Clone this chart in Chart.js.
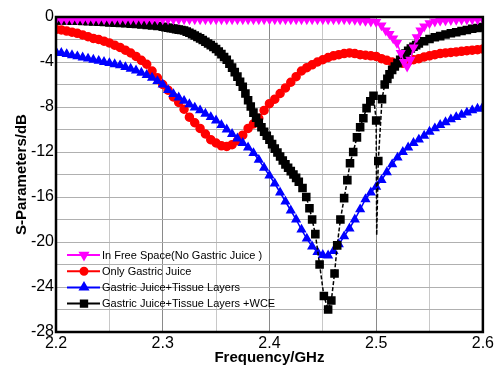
<!DOCTYPE html>
<html>
<head>
<meta charset="utf-8">
<script src="https://cdn.jsdelivr.net/npm/chart.js@4.4.1/dist/chart.umd.min.js"></script>
<style>
  html, body { margin: 0; padding: 0; background: #fff; }
  #wrap { width: 496px; height: 374px; }
</style>
</head>
<body>
<div id="wrap"><canvas id="sParamChart" width="496" height="374"></canvas></div>
<script>
// frequency sweep (GHz)
const freq = [
  2.2, 2.205, 2.21, 2.215, 2.22, 2.225, 2.23, 2.235, 2.24, 2.245,
  2.25, 2.255, 2.26, 2.265, 2.27, 2.275, 2.28, 2.285, 2.29, 2.295,
  2.3, 2.305, 2.31, 2.315, 2.32, 2.325, 2.33, 2.335, 2.34, 2.345,
  2.35, 2.355, 2.36, 2.365, 2.37, 2.375, 2.38, 2.385, 2.39, 2.395,
  2.4, 2.405, 2.41, 2.415, 2.42, 2.425, 2.43, 2.435, 2.44, 2.445,
  2.45, 2.455, 2.46, 2.465, 2.47, 2.475, 2.48, 2.485, 2.49, 2.495,
  2.5, 2.505, 2.51, 2.515, 2.52, 2.525, 2.53, 2.535, 2.54, 2.545,
  2.55, 2.555, 2.56, 2.565, 2.57, 2.575, 2.58, 2.585, 2.59, 2.595,
  2.6
];

// free space trace has extra samples in its notch
const freeFreq = [
  2.2, 2.205, 2.21, 2.215, 2.22, 2.225, 2.23, 2.235, 2.24, 2.245,
  2.25, 2.255, 2.26, 2.265, 2.27, 2.275, 2.28, 2.285, 2.29, 2.295,
  2.3, 2.305, 2.31, 2.315, 2.32, 2.325, 2.33, 2.335, 2.34, 2.345,
  2.35, 2.355, 2.36, 2.365, 2.37, 2.375, 2.38, 2.385, 2.39, 2.395,
  2.4, 2.405, 2.41, 2.415, 2.42, 2.425, 2.43, 2.435, 2.44, 2.445,
  2.45, 2.455, 2.46, 2.465, 2.47, 2.475, 2.48, 2.485, 2.49, 2.495,
  2.5, 2.505, 2.509, 2.5125, 2.516, 2.5195, 2.523, 2.526, 2.529, 2.532,
  2.535, 2.538, 2.5415, 2.545, 2.55, 2.555, 2.56, 2.565, 2.57, 2.575,
  2.58, 2.585, 2.59, 2.595, 2.6
];

const freeSpace = [
  -0.2, -0.2, -0.2, -0.2, -0.2, -0.2, -0.2, -0.2, -0.2, -0.2,
  -0.2, -0.2, -0.2, -0.2, -0.2, -0.2, -0.2, -0.2, -0.2, -0.2,
  -0.2, -0.2, -0.2, -0.2, -0.2, -0.2, -0.2, -0.2, -0.2, -0.2,
  -0.2, -0.2, -0.2, -0.2, -0.2, -0.2, -0.2, -0.2, -0.2, -0.2,
  -0.2, -0.2, -0.2, -0.2, -0.2, -0.2, -0.2, -0.2, -0.2, -0.2,
  -0.2, -0.2, -0.2, -0.2, -0.2, -0.22, -0.25, -0.3, -0.35, -0.4,
  -0.45, -0.75, -1.2, -1.5, -1.9, -2.3, -3.2, -4.0, -4.4, -3.8,
  -2.7, -1.8, -1.2, -0.85, -0.55, -0.4, -0.33, -0.3, -0.27, -0.25,
  -0.23, -0.22, -0.2, -0.2, -0.2
];

const gastricJuice = [
  -1.1, -1.15, -1.25, -1.35, -1.45, -1.6, -1.75, -1.9, -2.0, -2.15,
  -2.3, -2.5, -2.7, -2.95, -3.2, -3.5, -3.85, -4.2, -4.8, -5.4,
  -6.0, -6.5, -7.1, -7.6, -8.2, -8.9, -9.4, -9.9, -10.4, -10.9,
  -11.2, -11.45, -11.5, -11.35, -11.0, -10.5, -9.9, -9.5, -9.0, -8.3,
  -7.7, -7.3, -6.8, -6.3, -5.8, -5.3, -4.8, -4.5, -4.25, -4.0,
  -3.8, -3.6, -3.45, -3.35, -3.25, -3.2, -3.25, -3.35, -3.4, -3.45,
  -3.5, -3.7, -3.85, -4.0, -4.1, -4.1, -3.95, -3.8, -3.7, -3.55,
  -3.45, -3.35, -3.25, -3.2, -3.15, -3.1, -3.05, -3.0, -2.95, -2.9,
  -2.85
];

const tissueLayers = [
  -3.1, -3.2, -3.3, -3.4, -3.5, -3.6, -3.7, -3.8, -3.9, -4.0,
  -4.1, -4.2, -4.3, -4.45, -4.6, -4.75, -4.95, -5.15, -5.4, -5.7,
  -6.0, -6.5, -6.85, -7.15, -7.45, -7.75, -8.05, -8.3, -8.6, -8.9,
  -9.2, -9.6, -10.0, -10.4, -10.8, -11.2, -11.6, -12.1, -12.7, -13.4,
  -14.1, -14.8, -15.6, -16.4, -17.2, -18.0, -18.9, -19.7, -20.4, -20.9,
  -21.15, -21.2, -20.8, -20.2, -19.5, -18.8, -18.0, -17.1, -16.2, -15.6,
  -15.1, -14.5, -13.8, -13.1, -12.5, -12.0, -11.6, -11.2, -10.9, -10.55,
  -10.2, -9.9, -9.6, -9.35, -9.1, -8.9, -8.7, -8.5, -8.3, -8.15,
  -8.0
];

// the WCE trace is sampled finer where it drops, plus the spike near 2.5 GHz
const wceFreq = [
  2.2, 2.205, 2.21, 2.215, 2.22, 2.225, 2.23, 2.235, 2.24, 2.245,
  2.25, 2.255, 2.26, 2.265, 2.27, 2.275, 2.28, 2.285, 2.29, 2.295,
  2.3, 2.3025, 2.305, 2.3075, 2.31, 2.3125, 2.315, 2.3175, 2.32, 2.3225,
  2.325, 2.3275, 2.33, 2.3325, 2.335, 2.3375, 2.34, 2.3425, 2.345, 2.3475,
  2.35, 2.3525, 2.355, 2.3575, 2.36, 2.3625, 2.365, 2.3675, 2.37, 2.3725,
  2.375, 2.3775, 2.38, 2.3825, 2.385, 2.3875, 2.39, 2.3925, 2.395, 2.3975,
  2.4, 2.4025, 2.405, 2.4075, 2.41, 2.4125, 2.415, 2.4175, 2.42, 2.4225,
  2.425, 2.4275, 2.431, 2.4345, 2.4375, 2.44, 2.443, 2.447, 2.451, 2.455,
  2.458, 2.461, 2.4635, 2.4665, 2.47, 2.473, 2.4755, 2.4785, 2.482, 2.485,
  2.488, 2.491, 2.4945, 2.4975, 2.5, 2.5005, 2.502, 2.5055, 2.508, 2.5105,
  2.5125, 2.515, 2.5175, 2.52, 2.5225, 2.525, 2.5275, 2.53, 2.5325, 2.535,
  2.5375, 2.54, 2.545, 2.55, 2.555, 2.56, 2.565, 2.57, 2.575, 2.58,
  2.585, 2.59, 2.595, 2.6
];

const wce = [
  -0.3, -0.3, -0.3, -0.32, -0.33, -0.35, -0.37, -0.4, -0.42, -0.45,
  -0.48, -0.5, -0.53, -0.56, -0.6, -0.63, -0.67, -0.7, -0.75, -0.8,
  -0.87, -0.91, -0.95, -0.99, -1.03, -1.08, -1.12, -1.16, -1.2, -1.3,
  -1.4, -1.52, -1.65, -1.77, -1.9, -2.05, -2.2, -2.35, -2.5, -2.67,
  -2.85, -3.07, -3.3, -3.55, -3.8, -4.15, -4.5, -4.9, -5.3, -5.75,
  -6.2, -6.8, -7.4, -7.95, -8.5, -8.95, -9.4, -9.8, -10.2, -10.55,
  -10.9, -11.3, -11.7, -12.05, -12.4, -12.75, -13.1, -13.4, -13.7, -14.0,
  -14.3, -14.65, -15.2, -16.0, -17.0, -18.0, -19.3, -22.0, -24.8, -26.0,
  -25.2, -22.8, -20.3, -18.0, -16.1, -14.5, -13.0, -12.0, -10.7, -9.8,
  -9.0, -8.1, -7.5, -7.0, -9.2, -19.4, -12.8, -7.3, -6.0, -5.5,
  -5.1, -4.7, -4.4, -4.1, -3.8, -3.5, -3.25, -3.0, -2.8, -2.65,
  -2.5, -2.35, -2.15, -1.95, -1.8, -1.7, -1.55, -1.45, -1.35, -1.25,
  -1.15, -1.05, -0.97, -0.9
];
const wceSpikeFreq = 2.5005;

const seriesLabels = [
  'In Free Space(No Gastric Juice )',
  'Only Gastric Juice',
  'Gastric Juice+Tissue Layers',
  'Gastric Juice+Tissue Layers +WCE'
];

const yTicks = [0, -4, -8, -12, -16, -20, -24, -28];
const xTicks = [2.2, 2.3, 2.4, 2.5, 2.6];

const FONT = '"Liberation Sans", Arial, sans-serif';

function toPoints(xs, ys) {
  return ys.map((y, i) => ({ x: xs[i], y: y }));
}

const frameBorder = {
  id: 'frameBorder',
  afterDraw(chart) {
    const { left, top, right, bottom } = chart.chartArea;
    const ctx = chart.ctx;
    ctx.save();
    ctx.strokeStyle = '#000';
    ctx.lineWidth = 2.5;
    ctx.strokeRect(left, top, right - left, bottom - top);
    ctx.restore();
  }
};

// legend sits inside the plot, bottom left, line + marker like the original
const insideLegend = {
  id: 'insideLegend',
  afterDraw(chart) {
    const ctx = chart.ctx;
    const { left, bottom } = chart.chartArea;
    ctx.save();
    ctx.font = '11px ' + FONT;
    ctx.textBaseline = 'middle';
    chart.data.datasets.forEach((ds, i) => {
      const y = bottom - 77 + i * 16.2;
      ctx.strokeStyle = ds.borderColor;
      ctx.fillStyle = ds.borderColor;
      ctx.lineWidth = 2;
      ctx.setLineDash([]);
      ctx.beginPath();
      ctx.moveTo(left + 11, y);
      ctx.lineTo(left + 44, y);
      ctx.stroke();
      Chart.helpers.drawPoint(ctx, {
        pointStyle: ds.pointStyle,
        rotation: ds.pointRotation || 0,
        radius: ds.legendRadius,
        borderWidth: 1
      }, left + 28, y);
      ctx.fillStyle = '#000';
      ctx.fillText(ds.label, left + 46, y + 0.5);
    });
    ctx.restore();
  }
};

const ctx = document.getElementById('sParamChart').getContext('2d');
new Chart(ctx, {
  type: 'line',
  data: {
    datasets: [
      {
        label: seriesLabels[0],
        data: toPoints(freeFreq, freeSpace),
        borderColor: '#ff00ff',
        backgroundColor: '#ff00ff',
        borderWidth: 1.5,
        pointStyle: 'triangle',
        pointRotation: 180,
        pointRadius: 4.4,
        legendRadius: 4.4,
        order: 0
      },
      {
        label: seriesLabels[1],
        data: toPoints(freq, gastricJuice),
        borderColor: '#ff0000',
        backgroundColor: '#ff0000',
        borderWidth: 1.5,
        pointStyle: 'circle',
        pointRadius: 4,
        legendRadius: 3.5,
        order: 3
      },
      {
        label: seriesLabels[2],
        data: toPoints(freq, tissueLayers),
        borderColor: '#0000ff',
        backgroundColor: '#0000ff',
        borderWidth: 1.5,
        pointStyle: 'triangle',
        pointRadius: 4.4,
        legendRadius: 4.4,
        order: 2
      },
      {
        label: seriesLabels[3],
        data: toPoints(wceFreq, wce),
        borderColor: '#000000',
        backgroundColor: '#000000',
        borderWidth: 1.5,
        borderDash: [4, 2],
        pointStyle: 'rect',
        pointRadius: c => (c.raw && c.raw.x === wceSpikeFreq ? 0 : 5),
        legendRadius: 4.5,
        order: 1
      }
    ]
  },
  options: {
    responsive: false,
    animation: false,
    layout: { padding: { top: 17, right: 12, left: 0, bottom: 0 } },
    elements: {
      line: { tension: 0 },
      point: { borderWidth: 1, hoverRadius: 5 }
    },
    plugins: {
      legend: { display: false },
      tooltip: { enabled: false }
    },
    scales: {
      x: {
        type: 'linear',
        min: 2.2,
        max: 2.6,
        border: { display: false },
        afterFit: s => { s.height = 42; },
        afterBuildTicks: s => {
          const t = [];
          xTicks.forEach((v, i) => {
            t.push({ value: v });
            if (i < xTicks.length - 1) t.push({ value: Math.round((v + 0.05) * 100) / 100 });
          });
          s.ticks = t;
        },
        ticks: {
          color: '#000',
          padding: 2,
          maxRotation: 0,
          autoSkip: false,
          font: { family: FONT, size: 16 },
          callback: v => (xTicks.includes(v) ? v.toFixed(1) : '')
        },
        grid: {
          drawTicks: false,
          lineWidth: 1,
          color: c => (c.tick && xTicks.includes(c.tick.value) ? '#8a8a8a' : '#c8c8c8'),
          borderDash: [2, 3]
        },
        title: {
          display: true,
          text: 'Frequency/GHz',
          color: '#000',
          padding: { top: 0, bottom: 7 },
          font: { family: FONT, size: 15, weight: 'bold' }
        }
      },
      y: {
        min: -28,
        max: 0,
        border: { display: false },
        afterFit: s => { s.width = 56; },
        ticks: {
          stepSize: 2,
          color: '#000',
          padding: 2,
          autoSkip: false,
          font: { family: FONT, size: 16 },
          callback: v => (yTicks.includes(v) ? String(v) : '')
        },
        grid: {
          drawTicks: false,
          lineWidth: 1,
          color: '#b0b0b0',
          borderDash: [2, 3]
        },
        title: {
          display: true,
          text: 'S-Parameters/dB',
          color: '#000',
          padding: { top: 13, bottom: 0 },
          font: { family: FONT, size: 15, weight: 'bold' }
        }
      }
    }
  },
  plugins: [frameBorder, insideLegend]
});
</script>
</body>
</html>
